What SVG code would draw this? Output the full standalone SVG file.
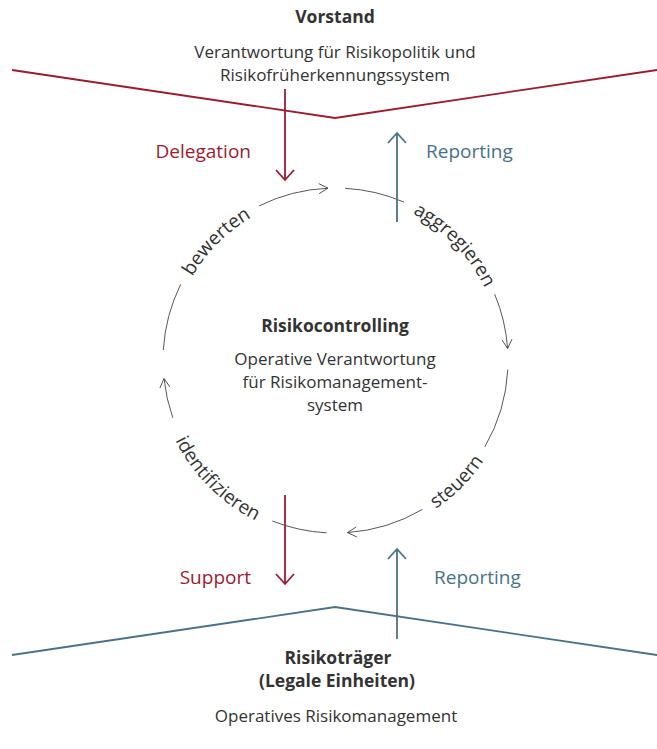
<svg xmlns="http://www.w3.org/2000/svg" width="657" height="749" viewBox="0 0 657 749">
<defs>
<style>
text{font-family:"Open Sans","Noto Sans","Liberation Sans",sans-serif;fill:#333;}
.t{font-size:17px;text-anchor:middle;}
.b{font-size:17.5px;font-weight:bold;text-anchor:middle;}
.red{fill:#9b1b30;font-size:19px;}
.teal{fill:#4a7286;font-size:19px;}
.lbl{font-size:19px;fill:#333;}
.arc{fill:none;stroke:#444;stroke-width:0.9;}
.rl{fill:none;stroke:#9b1b30;stroke-width:1.8;}
.tl{fill:none;stroke:#4a7286;stroke-width:1.8;}
</style>
<marker id="ch" markerUnits="userSpaceOnUse" markerWidth="24" markerHeight="24" refX="12" refY="12" orient="auto" viewBox="0 0 24 24">
<path d="M3,7 L12,12 L3,17" fill="none" stroke="#444" stroke-width="0.9"/>
</marker>
<marker id="ar" markerUnits="userSpaceOnUse" markerWidth="24" markerHeight="24" refX="12" refY="12" orient="auto" viewBox="0 0 24 24">
<path d="M2,3 L12,12 L2,21" fill="none" stroke="#9b1b30" stroke-width="1.8"/>
</marker>
<marker id="at" markerUnits="userSpaceOnUse" markerWidth="24" markerHeight="24" refX="12" refY="12" orient="auto" viewBox="0 0 24 24">
<path d="M2,3 L12,12 L2,21" fill="none" stroke="#4a7286" stroke-width="1.8"/>
</marker>
<path id="topc" d="M169.5,360.5 A166,166 0 0 1 501.5,360.5"/>
<path id="botc" d="M156.5,360.5 A179,179 0 0 0 514.5,360.5"/>
</defs>

<g id="vorstand">
<polyline class="rl" points="12,70 335,118 657,70"/>
<text class="b" x="335" y="23">Vorstand</text>
<text class="t" x="335" y="58">Verantwortung für Risikopolitik und</text>
<text class="t" x="335" y="81">Risikofrüherkennungssystem</text>
</g>

<g id="risikocontrolling">
<text class="b" x="335" y="332">Risikocontrolling</text>
<text class="t" x="335" y="365">Operative Verantwortung</text>
<text class="t" x="335" y="388">für Risikomanagement-</text>
<text class="t" x="335" y="411">system</text>
</g>

<g id="risikotraeger">
<polyline class="tl" points="12,655 335,607 657,655"/>
<text class="b" x="338" y="664">Risikoträger</text>
<text class="b" x="337" y="687">(Legale Einheiten)</text>
<text class="t" x="336" y="722">Operatives Risikomanagement</text>
</g>

<g id="cycle-labels">
<text class="lbl" text-anchor="middle"><textPath href="#topc" startOffset="25%">bewerten</textPath></text>
<text class="lbl" text-anchor="middle"><textPath href="#topc" startOffset="75.5%">aggregieren</textPath></text>
<text class="lbl" text-anchor="middle"><textPath href="#botc" startOffset="25%">identifizieren</textPath></text>
<text class="lbl" text-anchor="middle"><textPath href="#botc" startOffset="75%">steuern</textPath></text>
</g>

<g id="flow-labels">
<text class="red" x="251" y="158" text-anchor="end">Delegation</text>
<text class="teal" x="426" y="158">Reporting</text>
<text class="red" x="251" y="584" text-anchor="end">Support</text>
<text class="teal" x="434" y="584">Reporting</text>
</g>

<g id="connectors">
<path class="arc" d="M259.1,205.9 A172.5,172.5 0 0 1 328,188.2" marker-end="url(#ch)"/>
<path class="arc" d="M345.1,188.3 A172.5,172.5 0 0 1 404,202.1"/>
<path class="arc" d="M494.7,294.2 A172.5,172.5 0 0 1 507.6,348.5" marker-end="url(#ch)"/>
<path class="arc" d="M507.8,369.5 A172.5,172.5 0 0 1 484.9,446.8"/>
<path class="arc" d="M422.5,509.4 A172.5,172.5 0 0 1 347.5,532.6" marker-end="url(#ch)"/>
<path class="arc" d="M326.5,532.8 A172.5,172.5 0 0 1 272.3,521"/>
<path class="arc" d="M172.8,417.8 A172.5,172.5 0 0 1 164,378.5" marker-end="url(#ch)"/>
<path class="arc" d="M163.3,350 A172.5,172.5 0 0 1 180.7,284.3"/>
<line class="rl" x1="285" y1="89" x2="285" y2="180" marker-end="url(#ar)"/>
<line class="tl" x1="397" y1="222" x2="397" y2="133" marker-end="url(#at)"/>
<line class="rl" x1="285" y1="495" x2="285" y2="584" marker-end="url(#ar)"/>
<line class="tl" x1="397" y1="639" x2="397" y2="549" marker-end="url(#at)"/>
</g>
</svg>
